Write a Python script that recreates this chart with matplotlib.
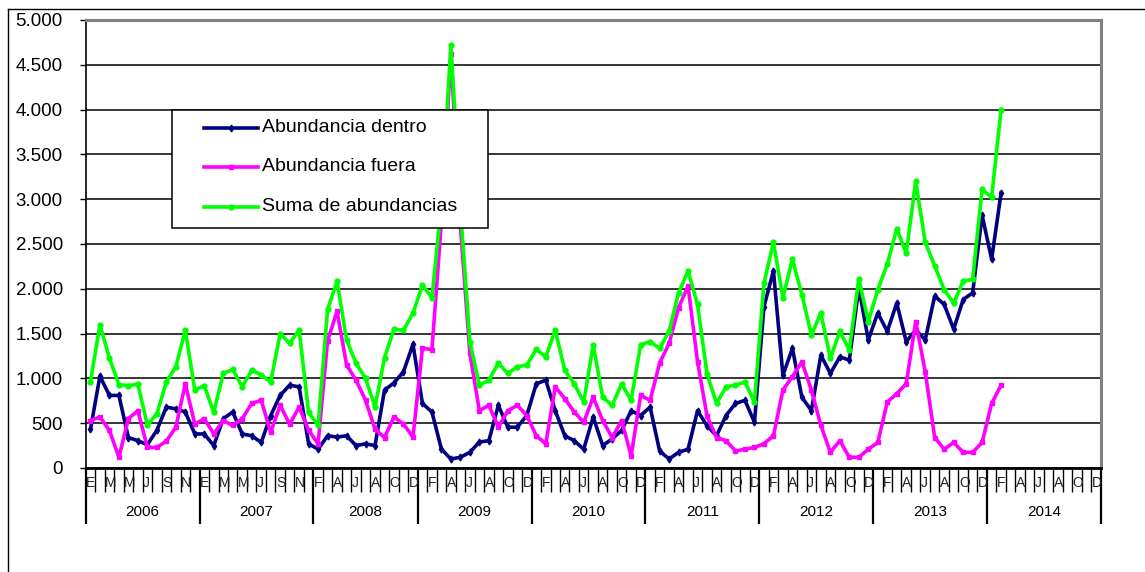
import matplotlib.pyplot as plt
from matplotlib.lines import Line2D
from matplotlib.patches import Rectangle
from matplotlib.ticker import FixedLocator, FuncFormatter

plt.rcParams['font.family'] = ['Liberation Sans', 'DejaVu Sans']

years = ['2006', '2007', '2008', '2009', '2010', '2011', '2012', '2013', '2014']
month_letters = ['E', 'F', 'M', 'A', 'M', 'J', 'J', 'A', 'S', 'O', 'N', 'D']
# 2008 has no January on the axis
first_month = [0, 0, 1, 0, 0, 0, 0, 0, 0]

dentro = [430, 1025, 810, 810, 340, 305, 260, 420, 680, 660, 625, 380,
          380, 250, 550, 625, 380, 360, 285, 585, 810, 925, 905, 270,
          210, 360, 345, 360, 250, 270, 250, 870, 950, 1075, 1380,
          720, 625, 210, 100, 120, 175, 290, 305, 700, 455, 455, 585,
          940, 980, 640, 360, 305, 210, 570, 250, 325, 420, 640, 585,
          680, 190, 100, 175, 210, 640, 470, 360, 585, 720, 755, 510,
          1800, 2200, 1035, 1335, 790, 640, 1260, 1055, 1240, 1205, 2010, 1430,
          1730, 1525, 1840, 1410, 1540, 1430, 1920, 1825, 1550, 1880, 1955, 2820,
          2330, 3070]

fuera = [530, 570, 420, 120, 550, 640, 230, 230, 300, 455, 940, 490,
         550, 380, 530, 475, 550, 720, 755, 400, 700, 490, 680, 420,
         270, 1420, 1750, 1150, 980, 755, 435, 340, 570, 490, 345,
         1340, 1320, 2750, 4620, 2700, 1280, 640, 700, 455, 640, 700, 585,
         360, 270, 905, 775, 625, 510, 790, 530, 340, 530, 135, 810,
         755, 1170, 1390, 1790, 2030, 1185, 580, 340, 305, 190, 210, 230,
         270, 360, 870, 1020, 1185, 870, 475, 175, 305, 120, 120, 210,
         285, 735, 830, 940, 1635, 1075, 340, 210, 285, 175, 175, 285,
         720, 925]

suma = [960, 1600, 1225, 930, 920, 935, 480, 605, 960, 1130, 1540, 870,
        920, 620, 1055, 1100, 905, 1090, 1040, 960, 1500, 1390, 1540, 620,
        475, 1770, 2085, 1430, 1170, 1000, 680, 1230, 1550, 1535, 1730,
        2040, 1900, 2950, 4720, 2900, 1410, 925, 980, 1170, 1055, 1130, 1150,
        1325, 1240, 1540, 1090, 940, 735, 1375, 790, 700, 940, 755, 1375,
        1410, 1335, 1525, 1955, 2200, 1825, 1050, 720, 905, 925, 960, 735,
        2060, 2520, 1900, 2330, 1935, 1485, 1730, 1225, 1525, 1320, 2110, 1635,
        1990, 2275, 2670, 2400, 3200, 2520, 2255, 1990, 1840, 2085, 2105, 3110,
        3020, 4000]

series_names = ['Abundancia dentro', 'Abundancia fuera', 'Suma de abundancias']
series_colors = ['#000080', '#FF00FF', '#00FF00']
series_markers = ['d', 's', 'o']

# categories on the axis: (year index, month index)
cats = []
for yi in range(len(years)):
    for m in range(first_month[yi], 12):
        cats.append((yi, m))
n = len(cats)

fig = plt.figure(figsize=(11.45, 5.72), dpi=100)
ax = fig.add_axes([85.7 / 1145, 1 - 468 / 572, 1015 / 1145, 448 / 572])

for vals, name, col, mk in zip([dentro, fuera, suma], series_names,
                               series_colors, series_markers):
    ax.plot(range(len(vals)), vals, color=col, lw=2.6, marker=mk, ms=3.5,
            solid_joinstyle='round', clip_on=False, zorder=3)

ax.set_xlim(-0.5, n - 0.5)
ax.set_ylim(0, 5000)
ax.set_yticks(range(0, 5001, 500))
ax.yaxis.set_major_formatter(FuncFormatter(lambda v, p: f"{v:,.0f}".replace(',', '.')))
ax.grid(axis='y', color='black', lw=1.1, zorder=1)
ax.tick_params(axis='y', length=4.5, width=1, pad=12, labelsize=13.5)

# month ticks and year separators under the axis
year_starts = [k for k, c in enumerate(cats) if k == 0 or c[0] != cats[k - 1][0]]
ax.xaxis.set_minor_locator(FixedLocator([k - 0.5 for k in range(n + 1)]))
ax.xaxis.set_major_locator(FixedLocator([k - 0.5 for k in year_starts] + [n - 0.5]))
ax.tick_params(axis='x', which='minor', length=17.5, width=1.0, color='black')
ax.tick_params(axis='x', which='major', length=40, width=1.6, color='black')
ax.tick_params(axis='x', which='both', labelbottom=False)

trans = ax.get_xaxis_transform()
for k, (yi, m) in enumerate(cats):
    if k % 2 == 0:
        ax.text(k - 0.45, -0.034, month_letters[m], transform=trans,
                ha='left', va='center', fontsize=10, color='#222222')
for i, ys in enumerate(year_starts):
    end = year_starts[i + 1] if i + 1 < len(year_starts) else n
    ax.text((ys + end - 1) / 2, -0.098, years[i], transform=trans,
            ha='center', va='center', fontsize=11)

for side in ['top', 'right']:
    ax.spines[side].set_color('#808080')
    ax.spines[side].set_linewidth(2.2)
ax.spines['left'].set_linewidth(1.2)
ax.spines['bottom'].set_linewidth(2.0)

# legend box
ax.add_patch(Rectangle((0.085, 0.536), 0.311, 0.263, transform=ax.transAxes,
                       facecolor='white', edgecolor='black', lw=1.1, zorder=5))
for i, (name, col, mk) in enumerate(zip(series_names, series_colors, series_markers)):
    yy = [0.759, 0.672, 0.5826][i]
    ax.plot([0.1166, 0.1432, 0.1698], [yy, yy, yy], transform=ax.transAxes,
            color=col, lw=2.6, marker=mk, ms=3.5, markevery=[1], zorder=6)
    ax.text(0.1737, yy, name, transform=ax.transAxes, ha='left', va='center',
            fontsize=14, zorder=6)

# outer chart frame (partly cut off)
fig.add_artist(Line2D([8 / 1145, 8 / 1145], [0, 1 - 9 / 572], color='black', lw=1))
fig.add_artist(Line2D([8 / 1145, 1], [1 - 9 / 572, 1 - 9 / 572], color='black', lw=1))

plt.savefig('out.png', dpi=100)
